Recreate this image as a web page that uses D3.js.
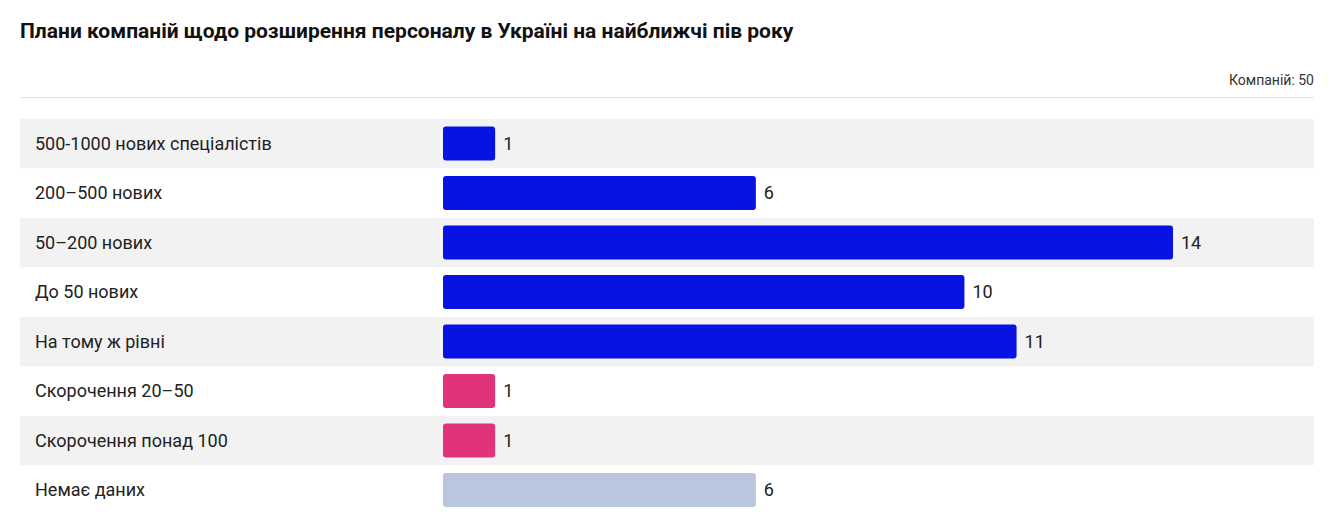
<!DOCTYPE html>
<html><head><meta charset="utf-8">
<script src="https://cdn.jsdelivr.net/npm/d3@7"></script>
<style>body{margin:0;background:#fff;font-family:Roboto,sans-serif}</style>
</head><body><svg id="c" width="1338" height="523"></svg>
<script>
const categories=["500-1000 нових спеціалістів","200–500 нових","50–200 нових","До 50 нових","На тому ж рівні","Скорочення 20–50","Скорочення понад 100","Немає даних"];
const values=[1,6,14,10,11,1,1,6];
const groups=["grow","grow","grow","grow","grow","cut","cut","none"];
const colors={grow:"#0713e3",cut:"#e0337c",none:"#b9c6de"};
const svg=d3.select("#c");
svg.append("text").attr("x",20).attr("y",38).attr("font-size",21).attr("font-weight",700).attr("fill","#111")
 .text("Плани компаній щодо розширення персоналу в Україні на найближчі пів року");
svg.append("text").attr("x",1314).attr("y",85).attr("text-anchor","end").attr("font-size",14).attr("fill","#333").text("Компаній: 50");
svg.append("line").attr("x1",20).attr("x2",1314).attr("y1",97.5).attr("y2",97.5).attr("stroke","#e3e3e3");
const y=d3.scaleBand().domain(categories).range([119,515]).paddingInner(0);
const x=d3.scaleLinear().domain([0,14]).range([443,1173]);
const g=svg.selectAll("g.r").data(categories).join("g");
g.append("rect").attr("x",20).attr("width",1294).attr("y",d=>y(d)).attr("height",y.bandwidth())
 .attr("fill",(d,i)=>i%2===0?"#f2f2f2":"#fff");
g.append("text").attr("x",35).attr("y",d=>y(d)+y.bandwidth()/2+6).attr("font-size",18).attr("fill","#222").text(d=>d);
g.append("rect").attr("x",x(0)).attr("y",d=>y(d)+7.5).attr("height",34).attr("rx",3)
 .attr("width",(d,i)=>x(values[i])-x(0)).attr("fill",(d,i)=>colors[groups[i]]);
g.append("text").attr("x",(d,i)=>x(values[i])+8).attr("y",d=>y(d)+y.bandwidth()/2+6).attr("font-size",18).attr("fill","#222").text((d,i)=>values[i]);
</script></body></html>
